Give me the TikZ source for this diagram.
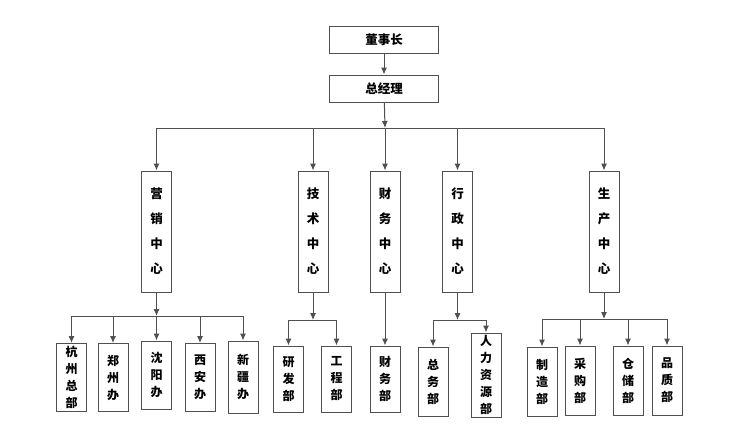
\documentclass[tikz,border=0pt]{standalone}
\usepackage{fontspec}
\usepackage{tikz}
\usetikzlibrary{arrows.meta}
\newfontfamily\cjk{Noto Sans CJK SC}
\definecolor{linegray}{RGB}{80,80,80}

\tikzset{
  box/.style={draw=linegray, line width=1pt, inner sep=0pt, align=center,
    font=\cjk\bfseries\fontsize{12.5}{14}\selectfont},
  headbox/.style={box, minimum width=109pt, minimum height=27pt},
  centerbox/.style={box, minimum width=30pt, minimum height=121pt,
    font=\cjk\bfseries\fontsize{12.5}{25}\selectfont},
  deptbox/.style={box, minimum width=30pt, minimum height=68pt,
    font=\cjk\bfseries\fontsize{12}{17}\selectfont},
  link/.style={draw=linegray, line width=1pt, -{Latex[length=7pt,width=6pt]}},
  bus/.style={draw=linegray, line width=1pt}
}

\begin{document}
\begin{tikzpicture}[x=1pt, y=-1pt]

\useasboundingbox (0,0) rectangle (750,445);

% top
\node[headbox] (dsz) at (384,39.5) {董事长};
\node[headbox] (zjl) at (384,88.5) {总经理};
\draw[link] (dsz) -- (zjl);

% centers
\node[centerbox] (yx) at (156.5,231.5) {营\\销\\中\\心};
\node[centerbox] (js) at (313,231.5) {技\\术\\中\\心};
\node[centerbox] (cw) at (385,231.5) {财\\务\\中\\心};
\node[centerbox] (xz) at (457.5,231.5) {行\\政\\中\\心};
\node[centerbox] (sc) at (604,231.5) {生\\产\\中\\心};

\coordinate (topbus) at (385,128);
\draw[link] (zjl) -- (topbus);
\draw[bus] (yx.north |- topbus) -- (sc.north |- topbus);
\foreach \n in {yx,js,cw,xz,sc}
  \draw[link] (\n.north |- topbus) -- (\n.north);

% 营销中心
\node[deptbox] (hz) at (71.5,377.5) {杭\\州\\总\\部};
\node[deptbox] (zz) at (113,377.5) {郑\\州\\办};
\node[deptbox] (sy) at (156.5,375) {沈\\阳\\办};
\node[deptbox] (xa) at (200,377.5) {西\\安\\办};
\node[deptbox, minimum height=72pt] (xj) at (243,377) {新\\疆\\办};
\coordinate (yxbus) at (156.5,316);
\draw[link] (yx) -- (yxbus);
\draw[bus] (hz.north |- yxbus) -- (xj.north |- yxbus);
\foreach \n in {hz,zz,sy,xa,xj}
  \draw[link] (\n.north |- yxbus) -- (\n.north);

% 技术中心
\node[deptbox, minimum height=66pt] (yf) at (288.5,379) {研\\发\\部};
\node[deptbox, minimum height=66pt] (gc) at (336.5,379) {工\\程\\部};
\coordinate (jsbus) at (313,320);
\draw[link] (js) -- (jsbus);
\draw[bus] (yf.north |- jsbus) -- (gc.north |- jsbus);
\foreach \n in {yf,gc}
  \draw[link] (\n.north |- jsbus) -- (\n.north);

% 财务中心
\node[deptbox, minimum height=66pt] (cwb) at (385,379) {财\\务\\部};
\draw[link] (cw) -- (cwb);

% 行政中心
\node[deptbox, minimum height=69pt] (zw) at (433,381.5) {总\\务\\部};
\node[deptbox, minimum height=84pt] (rl) at (486,375) {人\\力\\资\\源\\部};
\coordinate (xzbus) at (457.5,320);
\draw[link] (xz) -- (xzbus);
\draw[bus] (zw.north |- xzbus) -- (rl.north |- xzbus);
\foreach \n in {zw,rl}
  \draw[link] (\n.north |- xzbus) -- (\n.north);

% 生产中心
\node[deptbox, minimum height=69pt] (zzb) at (542,381.5) {制\\造\\部};
\node[deptbox, minimum height=69pt] (cg) at (580,380.5) {采\\购\\部};
\node[deptbox, minimum height=69pt] (cc) at (628,380.5) {仓\\储\\部};
\node[deptbox, minimum height=69pt] (pz) at (667,380.5) {品\\质\\部};
\coordinate (scbus) at (604,319);
\draw[link] (sc) -- (scbus);
\draw[bus] (zzb.north |- scbus) -- (pz.north |- scbus);
\foreach \n in {zzb,cg,cc,pz}
  \draw[link] (\n.north |- scbus) -- (\n.north);

\end{tikzpicture}
\end{document}
